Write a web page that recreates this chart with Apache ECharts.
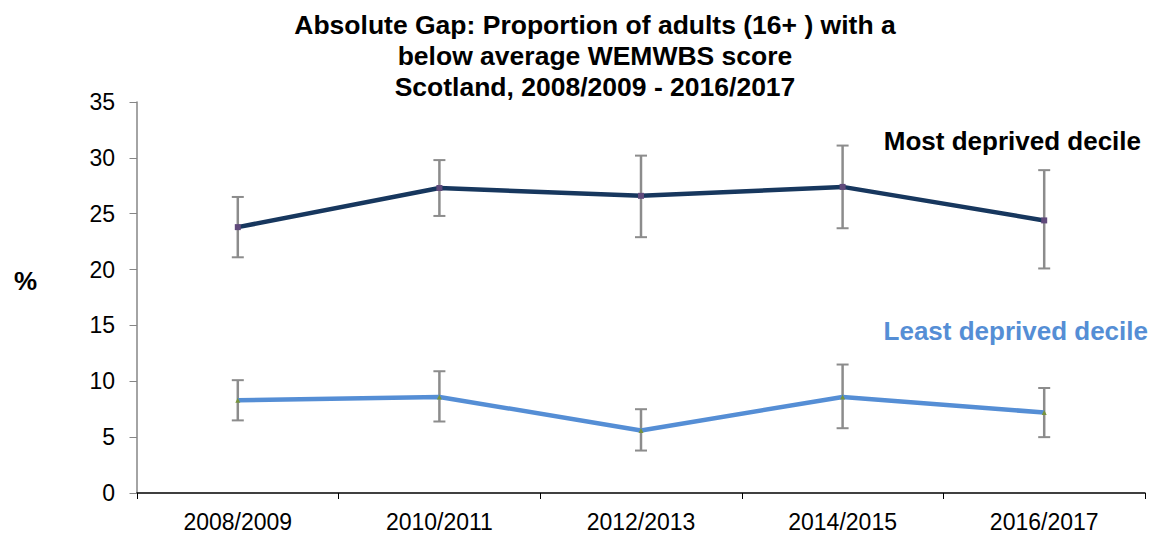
<!DOCTYPE html>
<html>
<head>
<meta charset="utf-8">
<script src="https://cdn.jsdelivr.net/npm/echarts@6/dist/echarts.min.js"></script>
<style>
  html, body { margin: 0; padding: 0; background: #fff; overflow: hidden; }
  #chart { width: 1151px; height: 533px; }
</style>
</head>
<body>
<div id="chart"></div>
<script>
// 数据
const years = ['2008/2009', '2010/2011', '2012/2013', '2014/2015', '2016/2017']
const mostDeprived = [23.8, 27.3, 26.6, 27.4, 24.4]
const mostLow = [21.1, 24.8, 22.9, 23.7, 20.1]
const mostHigh = [26.5, 29.8, 30.2, 31.1, 28.9]
const leastDeprived = [8.3, 8.6, 5.6, 8.6, 7.2]
const leastLow = [6.5, 6.4, 3.8, 5.8, 5.0]
const leastHigh = [10.1, 10.9, 7.5, 11.5, 9.4]
const yTicks = [0, 5, 10, 15, 20, 25, 30, 35]

const font = 'Liberation Sans, Arial, sans-serif'

// 误差线 (custom series)
function errorBars(low, high) {
  return {
    type: 'custom',
    z: 1,
    data: years.map((y, i) => [i, low[i], high[i]]),
    renderItem(params, api) {
      const lo = api.coord([api.value(0), api.value(1)])
      const hi = api.coord([api.value(0), api.value(2)])
      const w = 6
      const cap = { stroke: '#8c8c8c', lineWidth: 2 }
      return {
        type: 'group',
        children: [
          { type: 'line', shape: { x1: lo[0], y1: lo[1], x2: hi[0], y2: hi[1] }, style: { stroke: '#8c8c8c', lineWidth: 2.5 } },
          { type: 'line', shape: { x1: lo[0] - w, y1: lo[1], x2: lo[0] + w, y2: lo[1] }, style: cap },
          { type: 'line', shape: { x1: hi[0] - w, y1: hi[1], x2: hi[0] + w, y2: hi[1] }, style: cap }
        ]
      }
    }
  }
}

const option = {
  animation: false,
  backgroundColor: '#fff',
  title: {
    text: 'Absolute Gap: Proportion of adults (16+ ) with a\nbelow average WEMWBS score\nScotland, 2008/2009 - 2016/2017',
    left: 595,
    top: 9,
    padding: 0,
    textAlign: 'center',
    textStyle: { fontFamily: font, fontSize: 26.5, fontWeight: 'bold', color: '#000', lineHeight: 31.3 }
  },
  grid: { left: 137, right: 6, top: 102, bottom: 39 },
  xAxis: {
    type: 'category',
    data: years,
    boundaryGap: true,
    axisLine: { lineStyle: { color: '#000', width: 1.5 } },
    axisTick: { show: true, interval: 0, length: 6, lineStyle: { color: '#000' } },
    axisLabel: { fontFamily: font, fontSize: 23, color: '#000', margin: 17 }
  },
  yAxis: {
    type: 'value',
    min: 0,
    max: yTicks[yTicks.length - 1],
    interval: 5,
    splitLine: { show: false },
    axisLine: { show: true, lineStyle: { color: '#868686', width: 1.5 } },
    axisTick: { show: true, length: 7.5, lineStyle: { color: '#868686' } },
    axisLabel: { fontFamily: font, fontSize: 23, color: '#000', margin: 22 }
  },
  graphic: [
    { type: 'text', x: 14, y: 281, style: { text: '%', fontFamily: font, fontSize: 26, fontWeight: 'bold', fill: '#000', textVerticalAlign: 'middle' } },
    { type: 'text', x: 1141, y: 141, style: { text: 'Most deprived decile', fontFamily: font, fontSize: 26, fontWeight: 'bold', fill: '#000', textAlign: 'right', textVerticalAlign: 'middle' } },
    { type: 'text', x: 1148, y: 331, style: { text: 'Least deprived decile', fontFamily: font, fontSize: 26, fontWeight: 'bold', fill: '#558ed5', textAlign: 'right', textVerticalAlign: 'middle' } }
  ],
  series: [
    errorBars(mostLow, mostHigh),
    errorBars(leastLow, leastHigh),
    {
      name: 'Most deprived decile',
      type: 'line',
      z: 3,
      data: mostDeprived,
      lineStyle: { color: '#17375e', width: 4.5 },
      symbol: 'rect',
      symbolSize: 6,
      itemStyle: { color: '#604a7b' }
    },
    {
      name: 'Least deprived decile',
      type: 'line',
      z: 3,
      data: leastDeprived,
      lineStyle: { color: '#558ed5', width: 4.5 },
      symbol: 'triangle',
      symbolSize: 5,
      itemStyle: { color: '#77933c' }
    }
  ]
}

const chart = echarts.init(document.getElementById('chart'), null, { renderer: 'svg' })
chart.setOption(option)
</script>
</body>
</html>
